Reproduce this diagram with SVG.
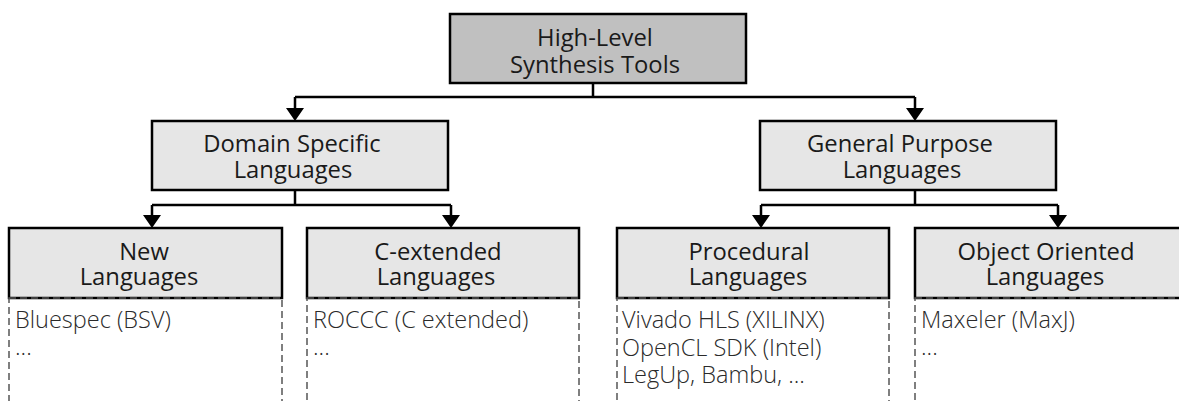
<svg xmlns="http://www.w3.org/2000/svg" width="1179" height="401" viewBox="0 0 1179 401">
  <defs>
    <style>
      .box { fill: #e6e6e6; stroke: #000; stroke-width: 2.5; }
      .root { fill: #c0c0c0; }
      .label { font-family: "Open Sans", "Noto Sans", sans-serif; font-size: 23.8px; fill: #1a1a1a; text-anchor: middle; }
      .list { font-family: "Open Sans", "Noto Sans", sans-serif; font-size: 23.5px; font-weight: 300; fill: #2a2a2a; }
      .frame { fill: none; stroke: #555; stroke-width: 1.5; stroke-dasharray: 7 4; }
      .conn { fill: none; stroke: #000; stroke-width: 2.5; }
      .tip { fill: #000; }
    </style>
  </defs>

  <!-- tree connectors -->
  <g id="connectors">
    <path class="conn" d="M593,83 V97 M295,97 H915 M295,97 V108 M915,97 V108"/>
    <path class="tip" d="M286,108 H304 L295,121 Z M906,108 H924 L915,121 Z"/>
    <path class="conn" d="M295,190 V205 M152,205 H451 M152,205 V215 M451,205 V215"/>
    <path class="tip" d="M143,215 H161 L152,228 Z M442,215 H460 L451,228 Z"/>
    <path class="conn" d="M915,190 V205 M761,205 H1058 M761,205 V215 M1058,205 V215"/>
    <path class="tip" d="M752,215 H770 L761,228 Z M1049,215 H1067 L1058,228 Z"/>
  </g>

  <!-- root -->
  <g id="hls-tools">
    <rect class="box root" x="450" y="14" width="296" height="69"/>
    <text class="label"><tspan x="595" y="46">High-Level</tspan><tspan x="595" y="72.5">Synthesis Tools</tspan></text>
  </g>

  <!-- second level -->
  <g id="domain-specific">
    <rect class="box" x="152" y="121" width="296" height="69"/>
    <text class="label"><tspan x="292" y="151.5">Domain Specific</tspan><tspan x="293" y="178">Languages</tspan></text>
  </g>
  <g id="general-purpose">
    <rect class="box" x="760" y="121" width="296" height="69"/>
    <text class="label"><tspan x="900" y="151.5">General Purpose</tspan><tspan x="902" y="178">Languages</tspan></text>
  </g>

  <!-- third level with example lists -->
  <g id="new-languages">
    <rect class="box" x="9" y="228" width="273" height="70"/>
    <rect class="frame" x="9" y="298" width="273" height="120"/>
    <text class="label"><tspan x="144" y="260">New</tspan><tspan x="139" y="285">Languages</tspan></text>
    <text class="list"><tspan x="15" y="328">Bluespec (BSV)</tspan><tspan x="15" y="355">...</tspan></text>
  </g>
  <g id="c-extended">
    <rect class="box" x="307" y="228" width="272" height="70"/>
    <rect class="frame" x="307" y="298" width="272" height="120"/>
    <text class="label"><tspan x="438" y="260">C-extended</tspan><tspan x="436" y="285">Languages</tspan></text>
    <text class="list"><tspan x="313" y="328">ROCCC (C extended)</tspan><tspan x="313" y="355">...</tspan></text>
  </g>
  <g id="procedural">
    <rect class="box" x="617" y="228" width="272" height="70"/>
    <rect class="frame" x="617" y="298" width="272" height="120"/>
    <text class="label"><tspan x="749" y="260">Procedural</tspan><tspan x="748" y="285">Languages</tspan></text>
    <text class="list"><tspan x="622" y="328">Vivado HLS (XILINX)</tspan><tspan x="622" y="356">OpenCL SDK (Intel)</tspan><tspan x="622" y="383">LegUp, Bambu, ...</tspan></text>
  </g>
  <g id="object-oriented">
    <rect class="box" x="915" y="228" width="272" height="70"/>
    <rect class="frame" x="915" y="298" width="272" height="120"/>
    <text class="label"><tspan x="1046" y="260">Object Oriented</tspan><tspan x="1045" y="285">Languages</tspan></text>
    <text class="list"><tspan x="921" y="328">Maxeler (MaxJ)</tspan><tspan x="921" y="355">...</tspan></text>
  </g>
</svg>
